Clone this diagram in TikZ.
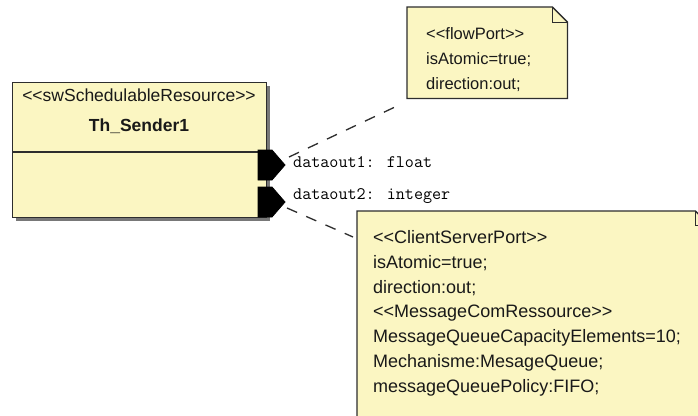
\documentclass[tikz,border=0pt]{standalone}
\usepackage{fontspec}
\setmainfont{Liberation Sans}[Ligatures=TeXOff]
\begin{document}
\begin{tikzpicture}[x=1pt,y=-1pt,
  umlbox/.style={draw=umlline, line width=1.3pt, fill=umlfill},
  porttip/.style={fill=black, draw=black, line width=0.8pt},
  conn/.style={draw=umlline, line width=1.3pt, dash pattern=on 11pt off 10pt},
  stxt/.style={font=\fontsize{17.5}{20}\selectfont, text=txtc, inner sep=0pt},
  ntxt/.style={font=\fontsize{16.5}{20}\selectfont, text=txtc, inner sep=0pt, anchor=base west},
  mtxt/.style={font=\fontsize{18}{22}\selectfont, text=txtc, inner sep=0pt, anchor=base west},
  mono/.style={font=\ttfamily\fontsize{17.6}{20}\selectfont, text=black, inner sep=0pt, anchor=base west}]
\definecolor{umlfill}{RGB}{251,246,194}
\definecolor{umlline}{RGB}{45,45,45}
\definecolor{shadowc}{RGB}{120,120,120}
\definecolor{txtc}{RGB}{25,25,25}
\useasboundingbox (0,0) rectangle (698,415);
\clip (0,0) rectangle (698,415);
\fill[white] (0,0) rectangle (698,415);

% class box
\fill[shadowc] (16,86) rectangle (270,221);
\node[umlbox, anchor=north west, minimum width=254pt, minimum height=135pt, inner sep=0pt] (cls) at (12,82) {};
\coordinate (div) at (0,152);
\draw[draw=umlline, line width=1.3pt] (cls.west |- div) -- (cls.east |- div);
\node[stxt, anchor=base] (st) at (139,101) {<<swSchedulableResource>>};
\node[stxt, anchor=base, font=\bfseries\fontsize{17.5}{20}\selectfont] (nm) at (139,131) {Th\_Sender1};

% ports
\draw[porttip] (258,150) -- (272,150) -- (285,165) -- (272,180) -- (258,180) -- cycle;
\draw[porttip] (258,187) -- (272,187) -- (285,202) -- (272,217) -- (258,217) -- cycle;
\coordinate (p1) at (289,157);
\coordinate (p2) at (287,208);

\node[mono] (l1) at (293,167) {dataout1: float};
\node[mono] (l2) at (293,199) {dataout2: integer};

% note 1
\node[anchor=north west, minimum width=160pt, minimum height=91pt, inner sep=0pt] (n1) at (407,7) {};
\draw[umlbox] (n1.south west) -- (n1.north west) -- ([xshift=-15pt]n1.north east) -- ([yshift=-15pt]n1.north east) -- (n1.south east) -- cycle;
\draw[draw=umlline, line width=0.9pt] ([xshift=-15pt]n1.north east) -- ([xshift=-15pt,yshift=-15pt]n1.north east) -- ([yshift=-15pt]n1.north east);
\node[ntxt] (n1a) at (426,39) {<<flowPort>>};
\node[ntxt] (n1b) at (426,64) {isAtomic=true;};
\node[ntxt] (n1c) at (426,89) {direction:out;};
\coordinate (n1c1) at (395,107);

% note 2
\node[anchor=north west, minimum width=353pt, minimum height=230pt, inner sep=0pt] (n2) at (357,211) {};
\draw[umlbox] (n2.south west) -- (n2.north west) -- ([xshift=-15pt]n2.north east) -- ([yshift=-15pt]n2.north east) -- (n2.south east) -- cycle;
\draw[draw=umlline, line width=0.9pt] ([xshift=-15pt]n2.north east) -- ([xshift=-15pt,yshift=-14pt]n2.north east) -- ([yshift=-14pt]n2.north east);
\node[mtxt] (n2a) at (373,243) {<<ClientServerPort>>};
\node[mtxt] (n2b) at (373,268) {isAtomic=true;};
\node[mtxt] (n2c) at (373,293) {direction:out;};
\node[mtxt] (n2d) at (373,317) {<<MessageComRessource>>};
\node[mtxt] (n2e) at (373,342) {MessageQueueCapacityElements=10;};
\node[mtxt] (n2f) at (373,367) {Mechanisme:MesageQueue;};
\node[mtxt] (n2g) at (373,392) {messageQueuePolicy:FIFO;};
\coordinate (n2c1) at (353,237);

% connectors
\draw[conn] (p1) -- (n1c1);
\draw[conn] (p2) -- (n2c1);
\end{tikzpicture}
\end{document}
